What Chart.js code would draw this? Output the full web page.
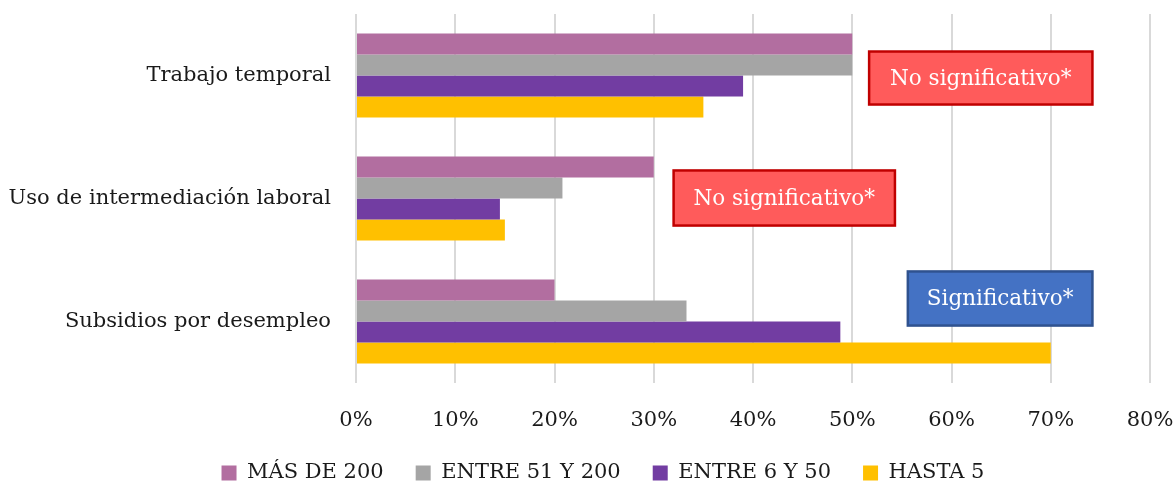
<!DOCTYPE html>
<html>
<head>
<meta charset="utf-8">
<script src="https://cdn.jsdelivr.net/npm/chart.js@4.4.1/dist/chart.umd.min.js"></script>
<style>
html,body{margin:0;padding:0;background:#fff;}
#wrap{width:1175px;height:482px;position:relative;}
</style>
</head>
<body>
<div id="wrap"><canvas id="c" width="1175" height="482"></canvas></div>
<script>
const categories = ['Trabajo temporal', 'Uso de intermediación laboral', 'Subsidios por desempleo'];
const seriesNames = ['MÁS DE 200', 'ENTRE 51 Y 200', 'ENTRE 6 Y 50', 'HASTA 5'];
const mas200 = [50, 30, 20];
const entre51y200 = [50, 20.8, 33.3];
const entre6y50 = [39, 14.5, 48.8];
const hasta5 = [35, 15, 70];
const xTicks = [0, 10, 20, 30, 40, 50, 60, 70, 80];
const notes = ['No significativo*', 'No significativo*', 'Significativo*'];
const noteX = [[51.7, 74.2], [32.0, 54.3], [55.6, 74.2]];
const noteY = [[-0.195, 0.236], [0.772, 1.22], [1.593, 2.033]];
const noteKind = ['red', 'red', 'blue'];

const FONT = "'DejaVu Serif', 'Liberation Serif', serif";
const colors = ['#B26EA0', '#A5A5A5', '#723DA2', '#FFC000'];
const noteStyles = {
  red: {fill: '#FF5B5B', border: '#C00000'},
  blue: {fill: '#4472C4', border: '#2F528F'}
};

const notePlugin = {
  id: 'notes',
  afterLayout(chart) {
    // nudge the legend row to the right, as in the original
    if (chart.legend) { chart.legend.left += 28; chart.legend.right += 28; }
  },
  afterDatasetsDraw(chart) {
    const ctx = chart.ctx;
    const xs = chart.scales.x, ys = chart.scales.y;
    notes.forEach((t, i) => {
      const x0 = xs.getPixelForValue(noteX[i][0]);
      const x1 = xs.getPixelForValue(noteX[i][1]);
      const y0 = ys.getPixelForValue(noteY[i][0]);
      const y1 = ys.getPixelForValue(noteY[i][1]);
      const st = noteStyles[noteKind[i]];
      ctx.save();
      ctx.fillStyle = st.fill;
      ctx.fillRect(x0, y0, x1 - x0, y1 - y0);
      ctx.strokeStyle = st.border;
      ctx.lineWidth = 2.5;
      ctx.strokeRect(x0, y0, x1 - x0, y1 - y0);
      ctx.fillStyle = '#ffffff';
      ctx.font = "21.5px " + FONT;
      ctx.textAlign = 'center';
      ctx.textBaseline = 'middle';
      ctx.fillText(t, (x0 + x1) / 2, (y0 + y1) / 2 + 1);
      ctx.restore();
    });
  }
};

const data = {
  labels: categories,
  datasets: [mas200, entre51y200, entre6y50, hasta5].map((d, i) => ({
    label: seriesNames[i],
    data: d,
    backgroundColor: colors[i],
    borderWidth: 0,
    categoryPercentage: 0.683,
    barPercentage: 1.0
  }))
};

new Chart(document.getElementById('c'), {
  type: 'bar',
  data: data,
  plugins: [notePlugin],
  options: {
    indexAxis: 'y',
    responsive: false,
    animation: false,
    layout: {padding: {top: 14, right: 25, left: 0, bottom: -11.5}},
    plugins: {
      tooltip: {enabled: false},
      legend: {
        position: 'bottom',
        labels: {
          boxWidth: 15, boxHeight: 15, padding: 32,
          color: '#1a1a1a',
          font: {family: FONT, size: 21}
        }
      }
    },
    scales: {
      x: {
        min: 0, max: 80,
        afterBuildTicks(s) { s.ticks = xTicks.map(v => ({value: v})); },
        afterFit(s) { s.height = 47.5; },
        border: {display: false},
        grid: {color: '#D9D9D9', lineWidth: 2, drawTicks: true, tickLength: 25, tickColor: 'rgba(0,0,0,0)'},
        ticks: {
          padding: 0,
          color: '#1a1a1a',
          font: {family: FONT, size: 21},
          callback: v => v + '%'
        }
      },
      y: {
        afterFit(s) { s.width = 356; },
        border: {display: false},
        grid: {display: false, drawTicks: true, tickLength: 25},
        ticks: {
          padding: 0,
          color: '#1a1a1a',
          font: {family: FONT, size: 21}
        }
      }
    }
  }
});
</script>
</body>
</html>
